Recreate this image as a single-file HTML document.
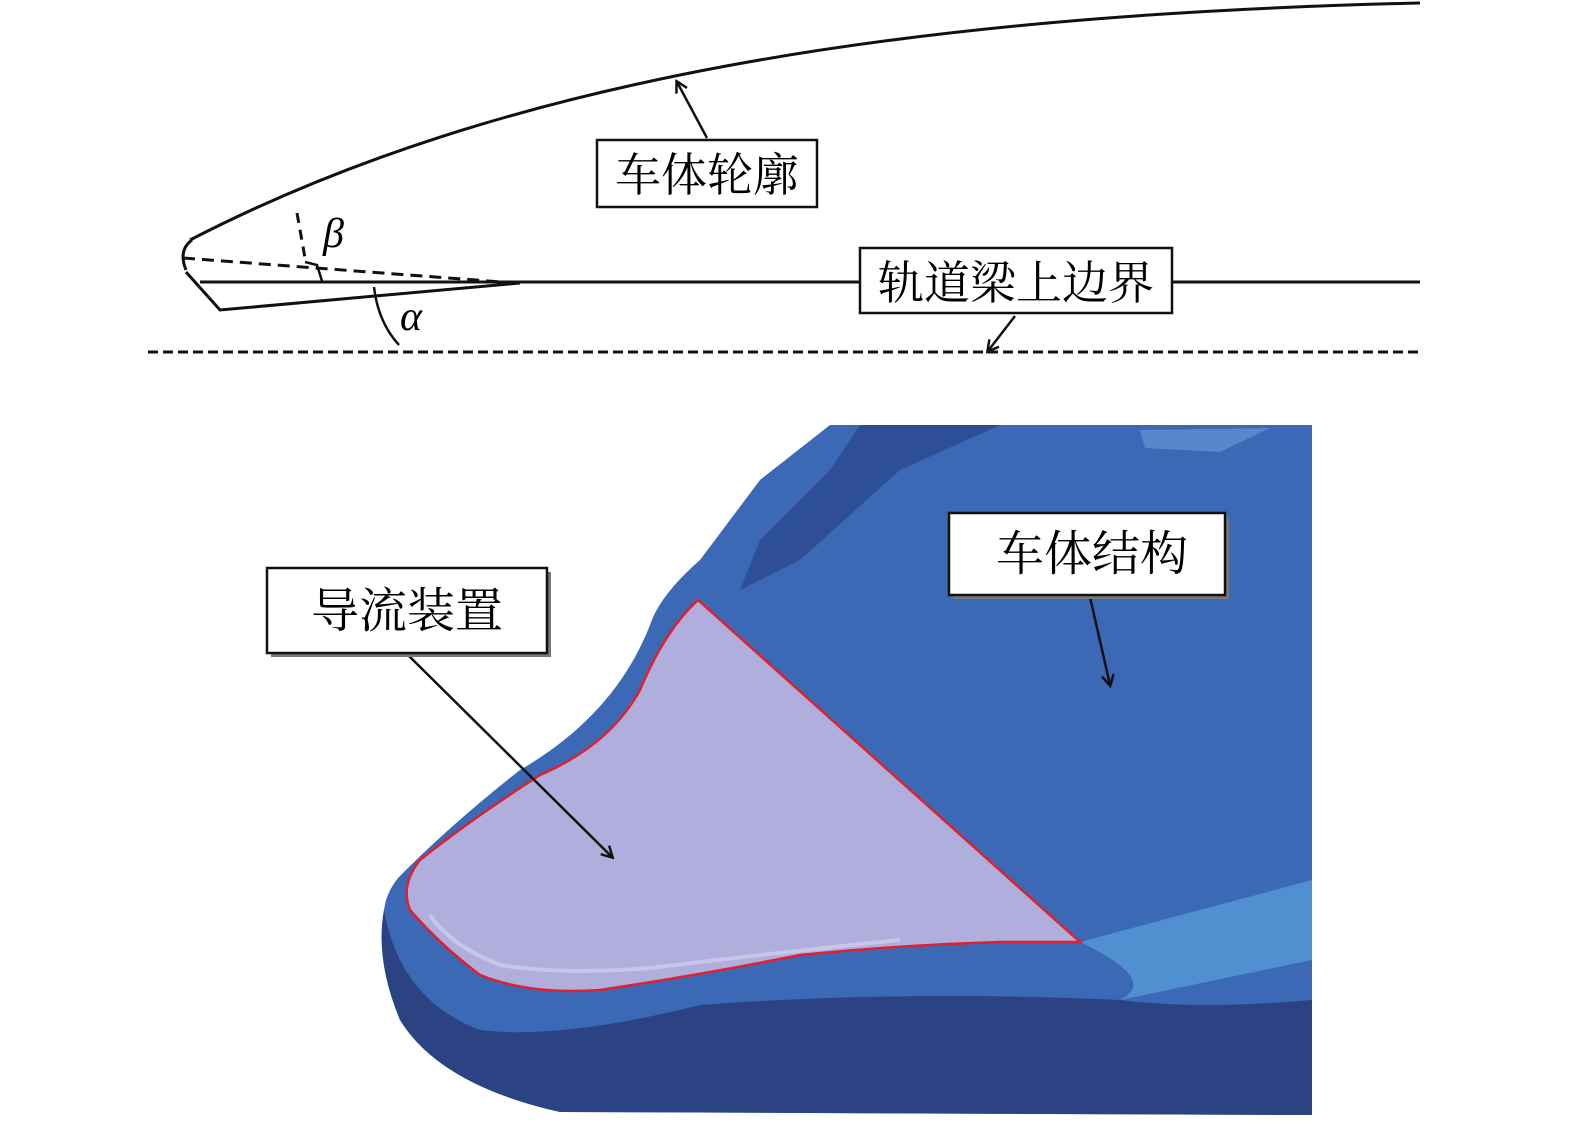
<!DOCTYPE html>
<html><head><meta charset="utf-8"><style>
html,body{margin:0;padding:0;background:#fff}
svg{display:block}
text{font-family:"Liberation Serif","Noto Serif CJK SC",serif}
</style></head><body>
<svg width="1575" height="1125" viewBox="0 0 1575 1125" xmlns="http://www.w3.org/2000/svg">
<defs>
<marker id="ah" markerWidth="14" markerHeight="14" refX="11" refY="7" orient="auto" markerUnits="userSpaceOnUse">
<path d="M1,1 L12,7 L1,13" fill="none" stroke="#111" stroke-width="2.5"/>
</marker>
<linearGradient id="lip" x1="0" y1="0" x2="0" y2="1">
<stop offset="0" stop-color="#3a66b8"/><stop offset="1" stop-color="#2d53a0"/>
</linearGradient>
</defs>
<g fill="none" stroke="#111" stroke-width="3">
<path d="M190,240 C500,80 900,15 1420,3"/>
<path d="M186,270 Q178,250 192,240"/>
<line x1="200" y1="282" x2="1420" y2="282"/>
<path d="M186,272 L220,310 L520,283"/>
<path d="M183,258 L515,283" stroke-dasharray="12,7"/>
<path d="M297,213 L305,258" stroke-dasharray="10,7"/>
<path d="M305,262 L317,265 L322,281" stroke-width="2.5"/>
<path d="M374,287 Q378,322 399,345" stroke-width="2.5"/>
<line x1="148" y1="352" x2="1420" y2="352" stroke-dasharray="10,5"/>
<line x1="707" y1="138" x2="677" y2="82" stroke-width="2.5" marker-end="url(#ah)"/>
<line x1="1015" y1="316" x2="988" y2="351" stroke-width="2.5" marker-end="url(#ah)"/>
</g>
<text x="323" y="247" font-size="42" font-style="italic">β</text>
<text x="400" y="330" font-size="42" font-style="italic">α</text>
<rect x="597" y="140" width="220" height="67" fill="#fff" stroke="#111" stroke-width="2.5"/>
<text x="707" y="191" font-size="46" text-anchor="middle">车体轮廓</text>
<rect x="860" y="248" width="312" height="65" fill="#fff" stroke="#111" stroke-width="2.5"/>
<text x="1016" y="299" font-size="46" text-anchor="middle">轨道梁上边界</text>

<path d="M830,425 L1312,425 L1312,1115 L560,1112 Q440,1085 400,1020 Q375,960 384,910 Q386,893 398,878 Q450,825 520,770 Q615,715 650,625 Q660,595 700,560 L760,480 Z" fill="#3b69b5"/>
<path d="M860,425 L1000,425 L900,470 L800,560 L740,590 L760,540 L830,470 Z" fill="#2e4f96"/>
<path d="M1140,430 L1270,428 L1220,452 L1145,448 Z" fill="#5a86cc"/>
<path d="M384,910 Q375,960 400,1020 Q440,1085 560,1112 L1312,1115 L1312,1000 Q1200,1010 1120,1000 Q900,990 700,1005 Q560,1040 480,1030 Q400,1000 384,910 Z" fill="#2b4382"/>
<path d="M1080,942 L1312,880 L1312,960 L1120,1000 Q1160,980 1080,942 Z" fill="#5aa0dc" opacity="0.7"/>
<path d="M698,600 Q665,630 640,690 Q610,745 540,775 Q470,820 420,860 Q400,885 410,910 Q440,945 480,975 Q530,995 600,990 Q700,975 800,955 Q900,945 1000,942 L1080,942 Z" fill="#b0aedc" stroke="#e0202c" stroke-width="2.5"/>
<path d="M430,915 Q450,945 500,965 Q560,975 650,968 Q800,950 900,940" fill="none" stroke="#c8c6ea" stroke-width="4"/>
<g stroke="#111" stroke-width="2.5" fill="none">
<line x1="408" y1="655" x2="612" y2="857" marker-end="url(#ah)"/>
<line x1="1090" y1="597" x2="1110" y2="685" marker-end="url(#ah)"/>
</g>
<rect x="271" y="572" width="280" height="85" fill="#777"/>
<rect x="267" y="568" width="280" height="85" fill="#fff" stroke="#111" stroke-width="2.5"/>
<text x="407" y="627" font-size="48" text-anchor="middle">导流装置</text>
<rect x="953" y="517" width="276" height="82" fill="#777"/>
<rect x="949" y="513" width="276" height="82" fill="#fff" stroke="#111" stroke-width="2.5"/>
<text x="1092" y="570" font-size="48" text-anchor="middle">车体结构</text>
</svg>
</body></html>
